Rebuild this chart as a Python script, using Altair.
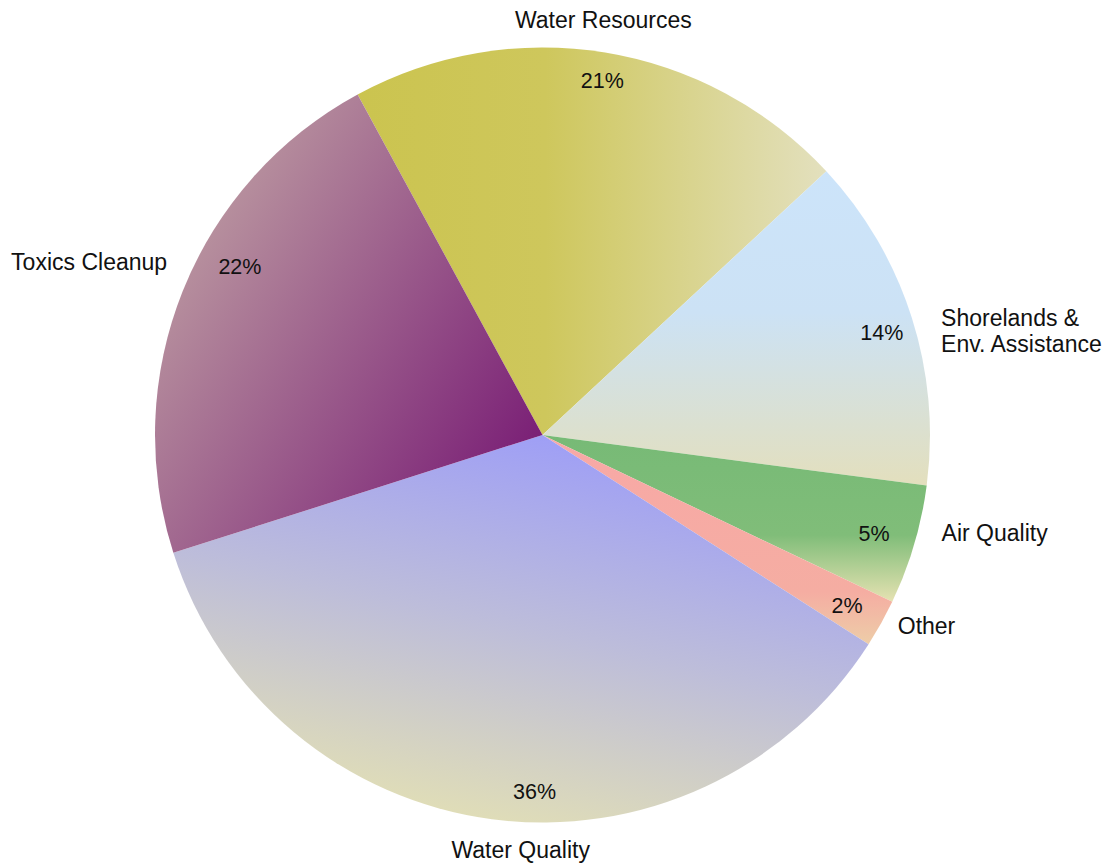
import math
import altair as alt
import pandas as pd

# ---- data ----
categories = ["Water Resources", "Shorelands & Env. Assistance", "Air Quality",
              "Other", "Water Quality", "Toxics Cleanup"]
name_labels = ["Water Resources", "Shorelands &\nEnv. Assistance", "Air Quality",
               "Other", "Water Quality", "Toxics Cleanup"]
shares = [21, 14, 5, 2, 36, 22]
pct_labels = ["21%", "14%", "5%", "2%", "36%", "22%"]

df = pd.DataFrame({
    "category": categories,
    "label": name_labels,
    "share": shares,
    "pct": pct_labels,
    "order": list(range(len(categories))),
})

# ---- styles ----
CX, CY, R = 542.5, 435, 387.5
START = math.radians(-28.5)
theta_scale = alt.Scale(domain=[0, 100], range=[START, START + 2 * math.pi])
FONT = "Liberation Sans"


def grad(stops, x1, y1, x2, y2):
    return {"gradient": "linear", "x1": x1, "y1": y1, "x2": x2, "y2": y2,
            "stops": [{"offset": o, "color": c} for o, c in stops]}


fills = {
    "Water Resources": grad([(0, "#CBC44F"), (0.4, "#CEC75C"), (1, "#E3E0BE")], 0, 0.5, 1, 0.5),
    "Shorelands & Env. Assistance": grad([(0, "#CCE4FA"), (0.45, "#CCE2F5"), (1, "#E3DFBD")], 0.5, 0, 0.5, 1),
    "Air Quality": grad([(0, "#77BA76"), (0.6, "#80BD79"), (1, "#E6E2B2")], 0.5, 0, 0.5, 1),
    "Other": grad([(0, "#F8A8A6"), (0.75, "#F5ADA2"), (1, "#EDCDA8")], 0.5, 0, 0.5, 1),
    "Water Quality": grad([(0, "#9B9BF9"), (0.5, "#BDBDDA"), (1, "#E4E1B3")], 0.7, 0, 0.3, 1),
    "Toxics Cleanup": grad([(0, "#7A1F76"), (1, "#C7AEA8")], 1, 0.75, 0.02, 0.02),
}

# name label style: (radius, align, dx, dy)
name_style = {
    "Water Resources": (420, "center", -7, 0),
    "Shorelands & Env. Assistance": (410, "left", 8, 9),
    "Air Quality": (410, "left", 6, -17),
    "Other": (410, "left", -3, -7),
    "Water Quality": (420, "center", 33, 0),
    "Toxics Cleanup": (410, "right", 5, -19),
}
# percentage label style: (radius, dx, dy)
pct_style = {
    "Water Resources": (352, 3, -6),
    "Shorelands & Env. Assistance": (352, 4, 6),
    "Air Quality": (352, -6, 0),
    "Other": (352, -3, 1),
    "Water Quality": (352, 38, 9),
    "Toxics Cleanup": (352, 24, -36),
}

base = (
    alt.Chart(df)
    .transform_window(cum="sum(share)", sort=[alt.SortField("order")], frame=[None, 0])
    .transform_calculate(t0="datum.cum - datum.share", tmid="datum.cum - datum.share / 2")
)

layers = []
for cat in categories:
    sel = base.transform_filter(alt.datum.category == cat)
    layers.append(
        sel.mark_arc(radius=R, color=fills[cat]).encode(
            theta=alt.Theta("t0:Q", scale=theta_scale, stack=False),
            theta2="cum:Q",
            x=alt.value(CX),
            y=alt.value(CY),
        )
    )

for cat in categories:
    sel = base.transform_filter(alt.datum.category == cat)
    r, al, dx, dy = name_style[cat]
    layers.append(
        sel.mark_text(radius=r, align=al, baseline="middle", dx=dx, dy=dy, font=FONT,
                      fontSize=23, color="#111111", lineBreak="\n", lineHeight=26).encode(
            theta=alt.Theta("tmid:Q", scale=theta_scale, stack=False),
            text="label:N",
            x=alt.value(CX),
            y=alt.value(CY),
        )
    )
    r, dx, dy = pct_style[cat]
    layers.append(
        sel.mark_text(radius=r, align="center", baseline="middle", dx=dx, dy=dy, font=FONT,
                      fontSize=21.5, color="#111111").encode(
            theta=alt.Theta("tmid:Q", scale=theta_scale, stack=False),
            text="pct:N",
            x=alt.value(CX),
            y=alt.value(CY),
        )
    )

chart = (
    alt.layer(*layers)
    .properties(width=1112, height=865, padding=0, autosize=alt.AutoSizeParams(type="none"),
                background="#ffffff")
    .configure_view(strokeWidth=0)
)

chart.save("out.html", embed_options={"renderer": "svg", "actions": False})
